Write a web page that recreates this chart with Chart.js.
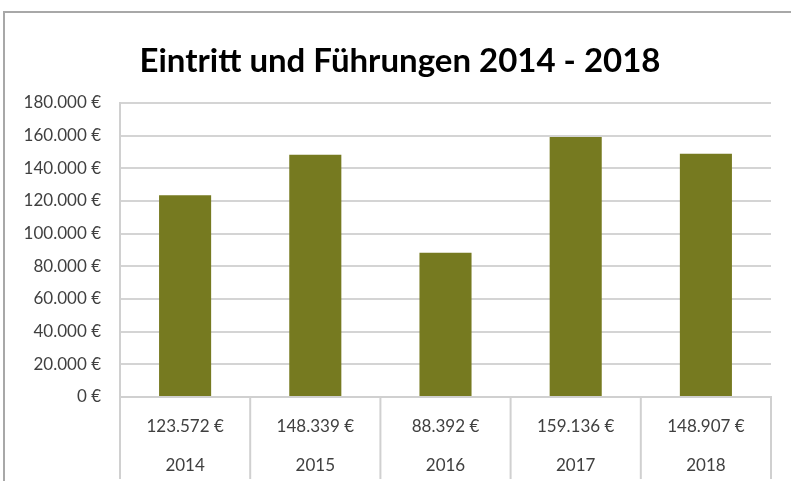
<!DOCTYPE html>
<html>
<head>
<meta charset="utf-8">
<script src="https://cdn.jsdelivr.net/npm/chart.js@4.4.1/dist/chart.umd.min.js"></script>
<style>
  html, body { margin: 0; padding: 0; background: #fff; }
  #wrap { position: relative; width: 791px; height: 481px; overflow: hidden; }
  #frame { position: absolute; left: 3px; top: 11px; right: -10px; bottom: -10px;
           border-top: 2px solid #a8a8a8; border-left: 2px solid #a8a8a8; }
  #title { position: absolute; left: 0; width: 800px; top: 39px; height: 40px; line-height: 40px;
           text-align: center; font: bold 33px Lato, sans-serif; color: #000; margin: 0; }
  canvas { position: absolute; left: 0; top: 0; }
</style>
</head>
<body>
<div id="wrap">
  <div id="frame"></div>
  <canvas id="myChart" width="791" height="481"></canvas>
  <h1 id="title">Eintritt und Führungen 2014 - 2018</h1>
</div>
<script>
const years = ['2014', '2015', '2016', '2017', '2018'];
const amounts = [123572, 148339, 88392, 159136, 148907];
const yMax = 180000;
const yStep = 20000;

const euro = (v) => String(Math.round(v)).replace(/\B(?=(\d{3})+(?!\d))/g, '.') + ' €';

// Excel-style data table below the bars: vertical separators at category borders
const tableLines = {
  id: 'tableLines',
  afterDraw(chart) {
    const x = chart.scales.x;
    const ctx = chart.ctx;
    const w = (x.right - x.left) / years.length;
    ctx.save();
    ctx.strokeStyle = '#d0d0d0';
    ctx.lineWidth = 2;
    for (let i = 0; i <= years.length; i++) {
      const px = i < years.length ? x.getPixelForValue(i) - w / 2 : x.getPixelForValue(i - 1) + w / 2;
      ctx.beginPath();
      ctx.moveTo(px, x.top);
      ctx.lineTo(px, x.top + 82);
      ctx.stroke();
    }
    ctx.restore();
  }
};

const ctx = document.getElementById('myChart').getContext('2d');

new Chart(ctx, {
  type: 'bar',
  data: {
    labels: years,
    datasets: [{
      label: 'Eintritt und Führungen',
      data: amounts,
      backgroundColor: '#767a20',
      borderWidth: 0,
      barPercentage: 0.4,
      categoryPercentage: 1
    }]
  },
  options: {
    responsive: false,
    animation: false,
    layout: { padding: { top: 103, right: 20, bottom: 0, left: 0 } },
    plugins: {
      legend: { display: false },
      tooltip: { enabled: false },
      title: { display: false }
    },
    scales: {
      x: {
        afterFit: (s) => { s.height = 84; },
        grid: { display: false, drawTicks: false },
        border: { display: true, color: '#d0d0d0', width: 2 },
        ticks: {
          padding: 10,
          color: '#404040',
          font: { family: 'Lato', size: 17, lineHeight: '39px' },
          callback: (v, i) => [euro(amounts[i]), years[i]]
        }
      },
      y: {
        min: 0,
        max: yMax,
        afterFit: (s) => { s.width = 120; },
        grid: { color: '#d4d4d4', lineWidth: 2, drawTicks: false },
        border: { display: true, color: '#d0d0d0', width: 2 },
        ticks: {
          stepSize: yStep,
          padding: 19,
          color: '#404040',
          font: { family: 'Lato', size: 17 },
          callback: (v) => euro(v)
        }
      }
    }
  },
  plugins: [tableLines]
});
</script>
</body>
</html>
